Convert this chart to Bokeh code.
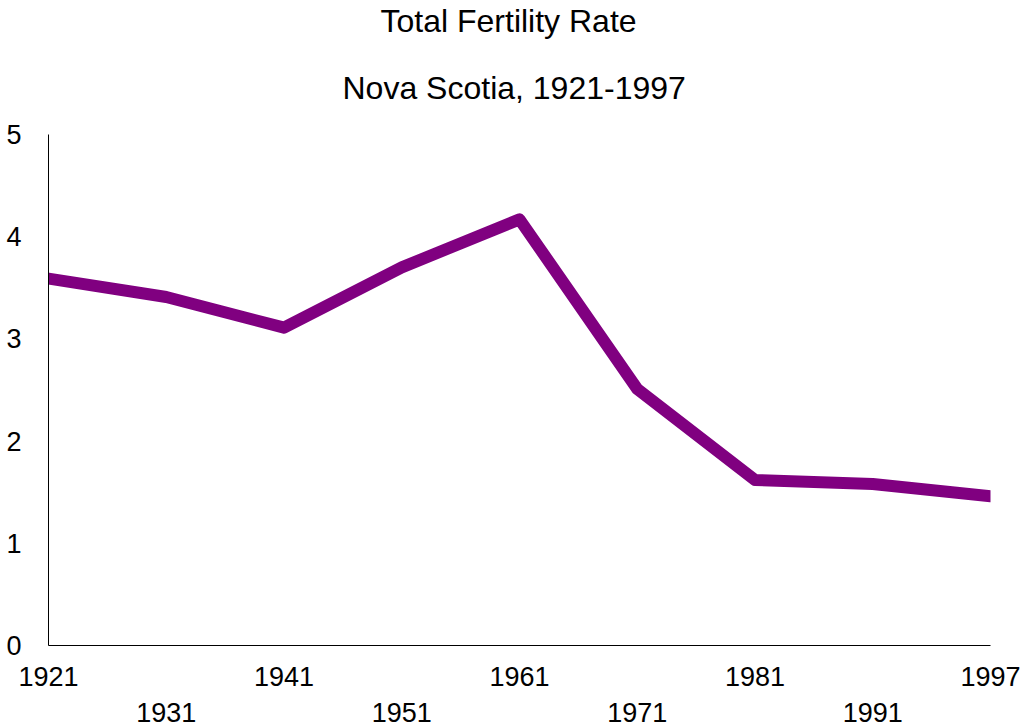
from bokeh.plotting import figure
from bokeh.models import Range1d, FixedTicker, LinearAxis, Title
from bokeh.embed import file_html
from bokeh.resources import INLINE

# Data
years = ["1921", "1931", "1941", "1951", "1961", "1971", "1981", "1991", "1997"]
tfr = [3.59, 3.41, 3.11, 3.70, 4.17, 2.51, 1.62, 1.58, 1.46]
y_ticks = [0, 1, 2, 3, 4, 5]
title_line1 = "Total Fertility Rate"
title_line2 = "Nova Scotia, 1921-1997"

FONT = "Liberation Sans"
FS = "27px"
idx = list(range(len(years)))

p = figure(width=1024, height=724, output_backend="svg", toolbar_location=None,
           x_range=Range1d(0, len(years) - 1), y_range=Range1d(0, 5),
           min_border_left=48, min_border_right=34, min_border_top=0, min_border_bottom=0)
p.outline_line_color = None
p.xgrid.visible = False
p.ygrid.visible = False
p.background_fill_color = "white"
p.border_fill_color = "white"

p.line(idx, tfr, line_color="#800080", line_width=12, line_cap="round", line_join="round")

# y axis
ya = p.yaxis[0]
ya.ticker = FixedTicker(ticks=y_ticks)
ya.major_tick_line_color = None
ya.minor_tick_line_color = None
ya.axis_line_color = "black"
ya.axis_line_width = 1
ya.major_label_text_font = FONT
ya.major_label_text_font_size = FS
ya.major_label_text_color = "black"
ya.major_label_standoff = 21

# x axis (even labels)
xa = p.xaxis[0]
even = [i for i in idx if i % 2 == 0]
odd = [i for i in idx if i % 2 == 1]
xa.ticker = FixedTicker(ticks=even)
xa.major_label_overrides = {i: years[i] for i in even}
xa.major_tick_line_color = None
xa.minor_tick_line_color = None
xa.axis_line_color = "black"
xa.major_label_text_font = FONT
xa.major_label_text_font_size = FS
xa.major_label_text_color = "black"
xa.major_label_standoff = 15

# second x axis (odd labels, staggered)
xa2 = LinearAxis(ticker=FixedTicker(ticks=odd),
                 major_label_overrides={i: years[i] for i in odd})
xa2.axis_line_color = None
xa2.major_tick_line_color = None
xa2.minor_tick_line_color = None
xa2.major_label_text_font = FONT
xa2.major_label_text_font_size = FS
xa2.major_label_text_color = "black"
xa2.major_label_standoff = 8
p.add_layout(xa2, "below")

# titles
t2 = Title(text=title_line2, align="left", offset=294,
           text_font=FONT, text_font_size="32px", text_font_style="normal",
           text_color="black", standoff=58)
t1 = Title(text=title_line1, align="left", offset=332, text_font=FONT,
           text_font_size="32px", text_font_style="normal", text_color="black", standoff=0)
p.add_layout(t2, "above")
p.add_layout(t1, "above")

open("out.html", "w").write(file_html(p, INLINE))
